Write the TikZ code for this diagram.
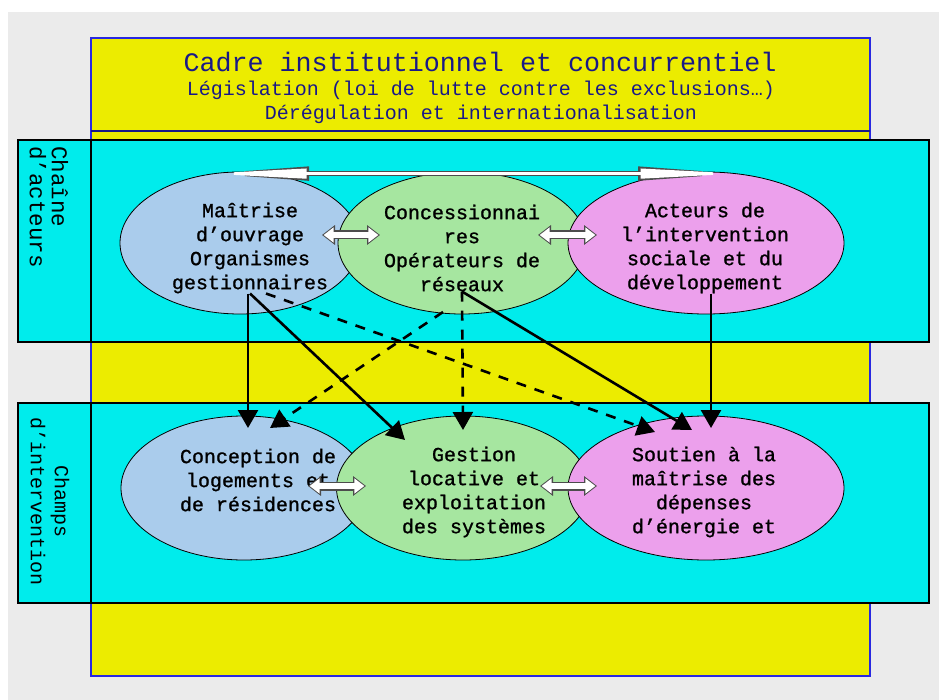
\documentclass[tikz,border=0pt]{standalone}
\usepackage{fontspec}
\setmonofont{Liberation Mono}[AutoFakeBold=1.1]
\usetikzlibrary{shapes.geometric, arrows.meta, positioning, calc}

\definecolor{fond}{RGB}{235,235,235}
\definecolor{jaune}{RGB}{236,236,0}
\definecolor{turq}{RGB}{0,236,236}
\definecolor{bordbleu}{RGB}{40,40,225}
\definecolor{marine}{RGB}{25,25,135}
\definecolor{bleuclair}{RGB}{170,204,236}
\definecolor{vertclair}{RGB}{166,230,160}
\definecolor{roseclair}{RGB}{236,160,236}

\begin{document}
\begin{tikzpicture}[
	x=1pt, y=-1pt,
	every node/.style={font=\ttfamily\fontsize{20}{24}\selectfont, inner sep=0pt},
	acteur/.style={ellipse, draw=black, line width=0.8pt},
	bande/.style={draw=black, line width=1.2pt, fill=turq},
	legende/.style={align=center, font=\ttfamily\bfseries\fontsize{20}{24}\selectfont},
	titre/.style={text=marine},
	fleche/.style={line width=2.6pt, -{Triangle[width=20pt,length=18pt]}},
	tirets/.style={fleche, dash pattern=on 10pt off 9pt},
	duofond/.style={line width=9pt, black!70, {Triangle[width=19pt,length=13pt]}-{Triangle[width=19pt,length=13pt]}},
	duoface/.style={line width=5.5pt, white, shorten <=1.6pt, shorten >=1.6pt, {Triangle[width=14.5pt,length=10pt]}-{Triangle[width=14.5pt,length=10pt]}},
	longfond/.style={line width=5pt, black!70, {Triangle[width=13pt,length=104pt]}-{Triangle[width=13pt,length=104pt]}},
	longface/.style={line width=2.6pt, white, shorten <=1.5pt, shorten >=1.5pt, {Triangle[width=9.5pt,length=100pt]}-{Triangle[width=9.5pt,length=100pt]}}
]
\useasboundingbox (0,0) rectangle (939,700);

% Fond et cadre
\fill[white] (0,0) rectangle (939,700);
\fill[fond] (8,12) rectangle (939,700);
\draw[bordbleu, line width=2pt, fill=jaune] (91,38) rectangle (870,676);
\draw[marine, line width=2pt] (91,131) -- (870,131);

\node[titre, font=\ttfamily\fontsize{26.7}{30}\selectfont] (cadre) at (480,62) {Cadre institutionnel et concurrentiel};
\node[titre] (legis) at (481,90) {Législation (loi de lutte contre les exclusions…)};
\node[titre] (dereg) at (481,114) {Dérégulation et internationalisation};

% Bandes
\draw[bande] (18,140) rectangle (929,342);
\draw[black, line width=1.2pt] (91,140) -- (91,342);
\draw[bande] (18,403) rectangle (929,603);
\draw[black, line width=1.2pt] (91,403) -- (91,603);

\node[rotate=-90, anchor=west, align=left, font=\ttfamily\fontsize{22.5}{22}\selectfont] (chaine) at (49,146) {Chaîne\\d’acteurs};
\node[rotate=-90, align=center] (champs) at (50,502) {Champs\\d’intervention};

% Chaine d'acteurs
\node[acteur, fill=bleuclair, minimum width=240pt, minimum height=142pt] (mo) at (240,243) {};
\node[acteur, fill=vertclair, minimum width=248pt, minimum height=142pt] (co) at (462,243) {};
\node[acteur, fill=roseclair, minimum width=276pt, minimum height=142pt] (ac) at (706,243) {};

\node[legende] (mot) at (250,248) {Maîtrise\\d’ouvrage\\Organismes\\gestionnaires};
\node[legende] (cot) at (462,248) {Concessionnai\\res\\Opérateurs de\\réseaux};
\node[legende] (act) at (705,248) {Acteurs de\\l’intervention\\sociale et du\\développement};

% Champs d'intervention
\node[acteur, fill=bleuclair, minimum width=246pt, minimum height=144pt] (cl) at (244,488) {};
\node[acteur, fill=vertclair, minimum width=253pt, minimum height=144pt] (gl) at (463,488) {};
\node[acteur, fill=roseclair, minimum width=276pt, minimum height=144pt] (sm) at (706,488) {};

\node[legende] (clt) at (258,480) {Conception de\\logements et\\de résidences};
\node[legende] (glt) at (474,492) {Gestion\\locative et\\exploitation\\des systèmes};
\node[legende] (smt) at (704,492) {Soutien à la\\maîtrise des\\dépenses\\d’énergie et};

% Doubles fleches
\draw[longfond] ($(mo.north)+(-35,2)$) -- ($(ac.north)+(36,2)$);
\draw[longface] ($(mo.north)+(-35,2)$) -- ($(ac.north)+(36,2)$);
\draw[duofond] ($(mo)+(82,-8)$) -- ($(co)+(-82,-8)$);
\draw[duoface] ($(mo)+(82,-8)$) -- ($(co)+(-82,-8)$);
\draw[duofond] ($(co)+(76,-8)$) -- ($(ac)+(-109,-8)$);
\draw[duoface] ($(co)+(76,-8)$) -- ($(ac)+(-109,-8)$);
\draw[duofond] ($(cl)+(64,-2)$) -- ($(gl)+(-97,-2)$);
\draw[duoface] ($(cl)+(64,-2)$) -- ($(gl)+(-97,-2)$);
\draw[duofond] ($(gl)+(77,-2)$) -- ($(sm)+(-109,-2)$);
\draw[duoface] ($(gl)+(77,-2)$) -- ($(sm)+(-109,-2)$);

% Liens entre les deux bandes
\draw[fleche] ([xshift=-2pt]mot.south) -- ($(cl)+(4,-60)$);
\draw[fleche] (mot.south) -- ($(gl)+(-58,-48)$);
\draw[tirets] ([xshift=16pt]mot.south) -- ($(sm)+(-51,-56)$);
\draw[tirets] ($(co)+(-19,69)$) -- ($(cl)+(26,-60)$);
\draw[tirets] (cot.south) -- ($(gl)+(0,-58)$);
\draw[fleche] (cot.south) -- ($(sm)+(-14,-58)$);
\draw[fleche] ([xshift=6pt]act.south) -- ($(sm)+(5,-60)$);

\end{tikzpicture}
\end{document}
